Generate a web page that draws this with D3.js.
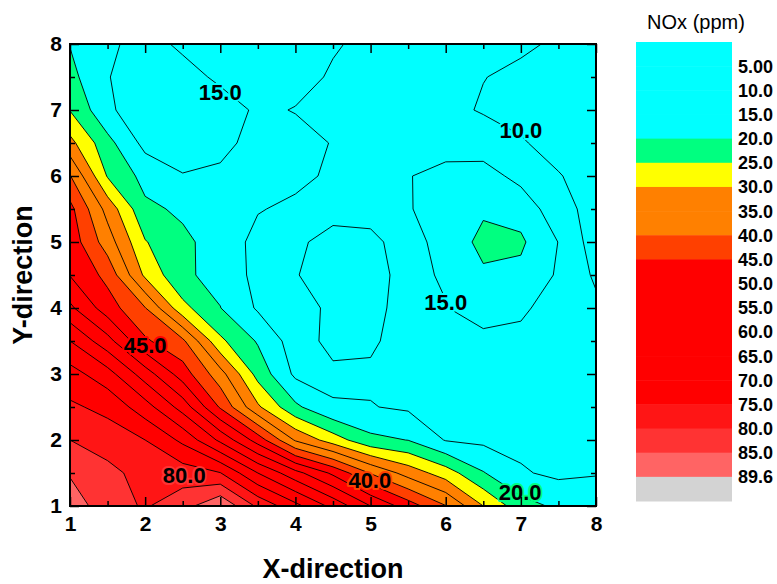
<!DOCTYPE html>
<html>
<head>
<meta charset="utf-8">
<script src="https://cdn.jsdelivr.net/npm/d3@7"></script>
<style>
  body { margin: 0; background: #fff; }
  text { font-family: Arial, "Liberation Sans", sans-serif; }
</style>
</head>
<body>
<div id="chart"></div>
<script>
const width = 777;
const height = 584;

const margin = { top: 44, left: 70, right: 181, bottom: 78 };
const plotW = width - margin.left - margin.right;
const plotH = height - margin.top - margin.bottom;

// grid nodes (data units)
const xValues = [1, 1.5, 2, 2.5, 3, 3.5, 4, 4.5, 5, 5.5, 6, 6.5, 7, 7.5, 8];
const yValues = [1, 1.5, 2, 2.5, 3, 3.5, 4, 4.5, 5, 5.5, 6, 6.5, 7, 7.5, 8];

// NOx (ppm), one row per y value
const noxY10 = [88, 82, 79.5, 83, 89.4, 79, 71.5, 63.5, 55, 47.5, 40.2, 30, 22, 19, 17];
const noxY15 = [84.5, 81.5, 78, 77.5, 75.2, 65, 56.7, 49, 39.7, 33, 27.5, 20.3, 15.5, 14, 14.8];
const noxY20 = [80, 77.5, 75, 68.9, 58.9, 47.8, 34.4, 27.5, 21.25, 19.9, 14.7, 14, 13.8, 13.8, 14];
const noxY25 = [75.8, 73.7, 67.2, 57.9, 44.4, 30.8, 21, 15.4, 15.2, 14.3, 13.8, 13.6, 13.5, 13.5, 13.5];
const noxY30 = [72, 67, 57.5, 47.5, 37, 23.2, 14, 14, 14.2, 13, 13, 13.5, 13.2, 13, 13];
const noxY35 = [65, 56.8, 45.8, 41, 26, 19.5, 12.5, 16.5, 15.8, 12.7, 13.5, 13.5, 13.8, 12.5, 12];
const noxY40 = [56, 47.4, 40.2, 26.5, 20.1, 14.4, 13.8, 15.6, 16.3, 13.3, 14.8, 17.5, 15.8, 12.9, 11];
const noxY45 = [49.8, 43.5, 29, 20.8, 18.5, 13.5, 14.8, 16.8, 16.5, 13.6, 15.6, 19.2, 18.8, 14.4, 9.2];
const noxY50 = [48, 37.5, 25.3, 21, 18, 13.5, 14.2, 16.5, 15.8, 13.5, 16.5, 21.5, 20.8, 14.9, 7.5];
const noxY55 = [46.5, 33.2, 21, 19.2, 17.5, 15.3, 14, 13.5, 13.8, 14.7, 17, 19.2, 18.1, 12, 8];
const noxY60 = [40.3, 24.6, 18.4, 15.3, 15.8, 16.8, 16.2, 14.2, 13.5, 14.8, 16.5, 17, 13.5, 10.2, 8.5];
const noxY65 = [31.5, 21.6, 13.5, 12, 13.8, 16.5, 16.5, 14.8, 13.5, 13.2, 13, 12.5, 10.3, 8.8, 8];
const noxY70 = [24.8, 16, 11.5, 11.5, 12.5, 15.8, 14.8, 13.5, 12.5, 12, 11.2, 9.6, 9.0, 8, 7.5];
const noxY75 = [21.5, 15.2, 12.5, 13, 16, 17.5, 16.5, 14.5, 13, 12.5, 11.5, 10.1, 9.2, 8.5, 8];
const noxY80 = [19.8, 16, 13, 16, 17, 17.5, 16.5, 15.4, 14, 12.5, 11.5, 11, 10.6, 9.5, 8.5];

const noxRows = [noxY10, noxY15, noxY20, noxY25, noxY30, noxY35, noxY40, noxY45,
    noxY50, noxY55, noxY60, noxY65, noxY70, noxY75, noxY80];

// contour levels and colour of each band (lowest band first)
const levels = [5, 10, 15, 20, 25, 30, 35, 40, 45, 50, 55, 60, 65, 70, 75, 80, 85, 89.6];
const levelLabels = ["5.00", "10.0", "15.0", "20.0", "25.0", "30.0", "35.0", "40.0", "45.0",
    "50.0", "55.0", "60.0", "65.0", "70.0", "75.0", "80.0", "85.0", "89.6"];
const bandColors = ["#00ffff", "#00ffff", "#00ffff", "#00ffff", "#00ff80", "#ffff00",
    "#ff8000", "#ff8000", "#ff4000", "#ff0000", "#ff0000", "#ff0000", "#ff0000",
    "#ff0000", "#ff0000", "#ff1515", "#ff3333", "#ff6464", "#d3d3d3"];

// labelled contours
const labelValues = [15, 10, 15, 45, 80, 40, 20];
const labelX = [3.0, 7.0, 6.0, 2.0, 2.52, 4.99, 6.99];
const labelY = [7.27, 6.7, 4.09, 3.44, 1.47, 1.39, 1.21];

const xTicks = [1, 2, 3, 4, 5, 6, 7, 8];
const yTicks = [1, 2, 3, 4, 5, 6, 7, 8];


const svg = d3.select("#chart").append("svg").attr("width", width).attr("height", height);

const xScale = d3.scaleLinear().domain([1, 8]).range([0, plotW]);
const yScale = d3.scaleLinear().domain([1, 8]).range([plotH, 0]);

const g = svg.append("g").attr("transform", `translate(${margin.left},${margin.top})`);

g.append("clipPath")
    .attr("id", "plotClip")
    .append("rect")
    .attr("width", plotW)
    .attr("height", plotH);

const plot = g.append("g").attr("clip-path", "url(#plotClip)");

plot.append("rect")
    .attr("width", plotW)
    .attr("height", plotH)
    .attr("fill", bandColors[0]);

//contours
const nx = xValues.length;
const ny = yValues.length;
const contours = d3.contours()
    .size([nx, ny])
    .thresholds(levels)
    (noxRows.flat());

// grid index space -> pixels (node i sits at i + 0.5)
const gx = d3.scaleLinear().domain([0.5, nx - 0.5]).range([xScale(xValues[0]), xScale(xValues[nx - 1])]);
const gy = d3.scaleLinear().domain([0.5, ny - 0.5]).range([yScale(yValues[0]), yScale(yValues[ny - 1])]);
const gridPath = d3.geoPath(d3.geoTransform({
    point: function (x, y) { this.stream.point(gx(x), gy(y)); }
}));

plot.selectAll("path.band")
    .data(contours)
    .join("path")
    .attr("class", "band")
    .attr("d", gridPath)
    .attr("fill", (d, i) => bandColors[i + 1])
    .attr("stroke", "none");

plot.selectAll("path.isoline")
    .data(contours)
    .join("path")
    .attr("class", "isoline")
    .attr("d", gridPath)
    .attr("fill", "none")
    .attr("stroke", "#000")
    .attr("stroke-width", 0.9);

plot.selectAll("text.clabel")
    .data(labelValues)
    .join("text")
    .attr("class", "clabel")
    .attr("x", (d, i) => xScale(labelX[i]))
    .attr("y", (d, i) => yScale(labelY[i]))
    .attr("dy", "0.36em")
    .attr("text-anchor", "middle")
    .attr("font-size", 22)
    .attr("font-weight", "bold")
    .attr("fill", "#000")
    .attr("stroke", d => bandColors[levels.indexOf(d) + 1])
    .attr("stroke-width", 4)
    .attr("stroke-linejoin", "round")
    .attr("paint-order", "stroke")
    .text(d => d.toFixed(1));

//axes, ticks point inward
const minor = d3.range(1.5, 8, 1);

g.append("g")
    .attr("class", "x-axis")
    .attr("transform", `translate(0,${plotH})`)
    .call(d3.axisBottom(xScale).tickValues(xTicks).tickSize(-9).tickPadding(10).tickFormat(d3.format("d")));
g.append("g")
    .attr("transform", `translate(0,${plotH})`)
    .call(d3.axisBottom(xScale).tickValues(minor).tickSize(-5).tickFormat(""));
g.append("g")
    .call(d3.axisTop(xScale).tickValues(xTicks).tickSize(-9).tickFormat(""));
g.append("g")
    .call(d3.axisTop(xScale).tickValues(minor).tickSize(-5).tickFormat(""));

g.append("g")
    .attr("class", "y-axis")
    .call(d3.axisLeft(yScale).tickValues(yTicks).tickSize(-9).tickPadding(8).tickFormat(d3.format("d")));
g.append("g")
    .call(d3.axisLeft(yScale).tickValues(minor).tickSize(-5).tickFormat(""));
g.append("g")
    .attr("transform", `translate(${plotW},0)`)
    .call(d3.axisRight(yScale).tickValues(yTicks).tickSize(-9).tickFormat(""));
g.append("g")
    .attr("transform", `translate(${plotW},0)`)
    .call(d3.axisRight(yScale).tickValues(minor).tickSize(-5).tickFormat(""));

g.selectAll(".domain").remove();
g.selectAll(".tick line").attr("stroke", "#000").attr("stroke-width", 1.5);
g.selectAll(".tick text")
    .attr("font-size", 21)
    .attr("font-weight", "bold")
    .attr("fill", "#000");

g.append("rect")
    .attr("width", plotW)
    .attr("height", plotH)
    .attr("fill", "none")
    .attr("stroke", "#000")
    .attr("stroke-width", 2);

g.append("text")
    .attr("x", plotW / 2)
    .attr("y", plotH + 72)
    .attr("text-anchor", "middle")
    .attr("font-size", 27)
    .attr("font-weight", "bold")
    .text("X-direction");

g.append("text")
    .attr("transform", `translate(-38,${plotH / 2}) rotate(-90)`)
    .attr("text-anchor", "middle")
    .attr("font-size", 27)
    .attr("font-weight", "bold")
    .text("Y-direction");

//colour scale
const legendY = d3.scaleLinear().domain([0, bandColors.length]).range([42, 501]);
const legend = svg.append("g").attr("transform", "translate(636,0)");

legend.selectAll("rect")
    .data(bandColors)
    .join("rect")
    .attr("x", 0)
    .attr("y", (d, i) => legendY(i))
    .attr("width", 96)
    .attr("height", (d, i) => legendY(i + 1) - legendY(i) + 0.5)
    .attr("fill", d => d);

legend.selectAll("text.lvl")
    .data(levelLabels)
    .join("text")
    .attr("class", "lvl")
    .attr("x", 102)
    .attr("y", (d, i) => legendY(i + 1))
    .attr("dy", "0.36em")
    .attr("font-size", 18)
    .attr("font-weight", "bold")
    .text(d => d);

legend.append("text")
    .attr("x", 60)
    .attr("y", 29)
    .attr("text-anchor", "middle")
    .attr("font-size", 20)
    .text("NOx (ppm)");
</script>
</body>
</html>
